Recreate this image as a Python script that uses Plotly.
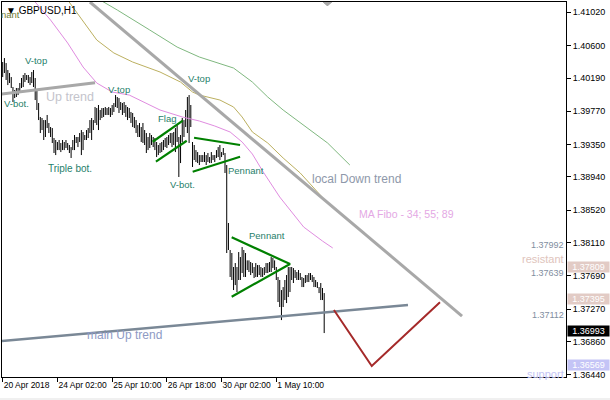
import plotly.graph_objects as go

# ---------------- data ----------------
TICK_BARS = [0, 32, 64, 96, 128, 160]
TICK_TEXT = ["20 Apr 2018", "24 Apr 02:00", "25 Apr 10:00", "26 Apr 18:00", "30 Apr 02:00", "1 May 10:00"]
PRICE_TICKS = [1.41020, 1.40600, 1.40190, 1.39770, 1.39350, 1.38940,
               1.38520, 1.38110, 1.37690, 1.37270, 1.36860, 1.36440]

HIGH = [1.40392, 1.40442, 1.40379, 1.40291, 1.40253, 1.40202, 1.40076, 1.40038, 1.40064, 1.40064,
        1.40127, 1.40190, 1.40228, 1.40253, 1.40228, 1.40228, 1.40202, 1.40266, 1.40291, 1.40190,
        1.40038, 1.39874, 1.39698, 1.39685, 1.39659, 1.39659, 1.39723, 1.39622, 1.39571, 1.39558,
        1.39432, 1.39407, 1.39382, 1.39407, 1.39369, 1.39407, 1.39382, 1.39407, 1.39369, 1.39344,
        1.39318, 1.39407, 1.39470, 1.39445, 1.39445, 1.39495, 1.39533, 1.39508, 1.39470, 1.39533,
        1.39558, 1.39659, 1.39685, 1.39659, 1.39824, 1.39811, 1.39849, 1.39786, 1.39811, 1.39811,
        1.39824, 1.39811, 1.39824, 1.39811, 1.39849, 1.39874, 1.39975, 1.39950, 1.39937, 1.39887,
        1.39874, 1.39887, 1.39849, 1.39824, 1.39811, 1.39761, 1.39748, 1.39698, 1.39659, 1.39596,
        1.39622, 1.39571, 1.39622, 1.39533, 1.39495, 1.39445, 1.39495, 1.39470, 1.39445, 1.39432,
        1.39382, 1.39344, 1.39369, 1.39382, 1.39407, 1.39432, 1.39445, 1.39470, 1.39495, 1.39495,
        1.39508, 1.39558, 1.39596, 1.39445, 1.39470, 1.39685, 1.39659, 1.39786, 1.39950, 1.39975,
        1.39849, 1.39382, 1.39344, 1.39280, 1.39255, 1.39217, 1.39217, 1.39217, 1.39255, 1.39217,
        1.39243, 1.39192, 1.39255, 1.39217, 1.39217, 1.39280, 1.39318, 1.39344, 1.39255, 1.39306,
        1.39243, 1.39091, 1.38359, 1.38018, 1.37980, 1.37803, 1.37853, 1.37803, 1.37992, 1.37929,
        1.38055, 1.38018, 1.37980, 1.37887, 1.37887, 1.37866, 1.37853, 1.37803, 1.37853, 1.37828,
        1.37828, 1.37803, 1.37790, 1.37803, 1.37853, 1.37853, 1.37866, 1.37929, 1.37917, 1.37887,
        1.37803, 1.37677, 1.37639, 1.37512, 1.37550, 1.37639, 1.37702, 1.37803, 1.37803, 1.37803,
        1.37790, 1.37765, 1.37740, 1.37765, 1.37727, 1.37677, 1.37664, 1.37702, 1.37702, 1.37727,
        1.37727, 1.37702, 1.37677, 1.37639, 1.37613, 1.37550, 1.37601, 1.37538, 1.37474]

LOW = [1.40202, 1.40253, 1.40165, 1.40101, 1.40127, 1.40064, 1.39887, 1.39937, 1.39950, 1.39975,
       1.40000, 1.40064, 1.40076, 1.40139, 1.40165, 1.40127, 1.40101, 1.40127, 1.40076, 1.39912,
       1.39786, 1.39659, 1.39495, 1.39533, 1.39407, 1.39445, 1.39558, 1.39495, 1.39445, 1.39369,
       1.39243, 1.39217, 1.39280, 1.39280, 1.39255, 1.39280, 1.39280, 1.39306, 1.39280, 1.39243,
       1.39180, 1.39280, 1.39280, 1.39369, 1.39318, 1.39382, 1.39217, 1.39280, 1.39407, 1.39407,
       1.39432, 1.39495, 1.39407, 1.39533, 1.39622, 1.39596, 1.39533, 1.39659, 1.39685, 1.39698,
       1.39723, 1.39723, 1.39723, 1.39698, 1.39723, 1.39761, 1.39824, 1.39811, 1.39748, 1.39786,
       1.39723, 1.39748, 1.39698, 1.39659, 1.39685, 1.39622, 1.39571, 1.39558, 1.39495, 1.39445,
       1.39445, 1.39382, 1.39369, 1.39344, 1.39243, 1.39280, 1.39306, 1.39344, 1.39318, 1.39280,
       1.39192, 1.39217, 1.39243, 1.39255, 1.39280, 1.39318, 1.39306, 1.39344, 1.39369, 1.39318,
       1.39344, 1.39255, 1.39382, 1.38940, 1.39116, 1.39382, 1.39445, 1.39571, 1.39495, 1.39369,
       1.39571, 1.39066, 1.39154, 1.39129, 1.39116, 1.39091, 1.39129, 1.39129, 1.39129, 1.39091,
       1.39129, 1.39116, 1.39116, 1.39154, 1.39129, 1.39180, 1.39192, 1.39154, 1.39192, 1.39217,
       1.38990, 1.37980, 1.38018, 1.37677, 1.37639, 1.37512, 1.37575, 1.37487, 1.37639, 1.37639,
       1.37727, 1.37677, 1.37677, 1.37765, 1.37740, 1.37702, 1.37727, 1.37664, 1.37677, 1.37677,
       1.37702, 1.37677, 1.37677, 1.37702, 1.37727, 1.37727, 1.37740, 1.37740, 1.37790, 1.37765,
       1.37639, 1.37361, 1.37298, 1.37133, 1.37298, 1.37386, 1.37348, 1.37424, 1.37487, 1.37639,
       1.37601, 1.37664, 1.37639, 1.37639, 1.37639, 1.37550, 1.37550, 1.37601, 1.37613, 1.37613,
       1.37639, 1.37613, 1.37550, 1.37550, 1.37538, 1.37474, 1.37386, 1.37386, 1.36969]

# Moving averages (MA Fibo 34 / 55 / 89), sampled (bar, price)
MA34_BAR = [18, 28, 38, 47, 55, 64, 74, 84, 92, 105, 115, 124, 133, 140, 146, 152, 162, 176, 183, 187, 193]
MA34_VAL = [1.41175, 1.40922, 1.40632, 1.40329, 1.40127, 1.40013, 1.39975, 1.39874, 1.39786, 1.39698,
            1.39647, 1.39584, 1.39508, 1.39382, 1.39230, 1.39015, 1.38687, 1.38308, 1.38194, 1.38131, 1.38043]
MA55_BAR = [38, 55, 65, 76, 92, 104, 111, 115, 127, 135, 140, 146, 155, 164, 174, 184, 191]
MA55_VAL = [1.41175, 1.40670, 1.40506, 1.40392, 1.40266, 1.40139, 1.40013, 1.39975, 1.39912, 1.39824,
            1.39698, 1.39508, 1.39369, 1.39180, 1.38990, 1.38750, 1.38586]
MA89_BAR = [57, 67, 86, 102, 115, 135, 146, 155, 164, 174, 190, 203]
MA89_VAL = [1.41175, 1.41049, 1.40796, 1.40581, 1.40455, 1.40316, 1.40139, 1.39950, 1.39786, 1.39622,
            1.39369, 1.39091]

# Drawn analysis objects (bar, price)
UP_TREND_BAR, UP_TREND_VAL = [-0.6, 54], [1.39988, 1.40131]
DOWN_TREND_BAR, DOWN_TREND_VAL = [51, 268.6], [1.41150, 1.37184]
MAIN_UP_BAR, MAIN_UP_VAL = [-0.4, 237], [1.36868, 1.37323]
FLAG_UP_BAR, FLAG_UP_VAL = [87.7, 105.3], [1.39385, 1.39651]
FLAG_LO_BAR, FLAG_LO_VAL = [89.6, 107.6], [1.39133, 1.39398]
PEN1_UP_BAR, PEN1_UP_VAL = [111.9, 138.8], [1.39436, 1.39344]
PEN1_LO_BAR, PEN1_LO_VAL = [111.1, 138.8], [1.39006, 1.39196]
PEN2_BAR, PEN2_VAL = [133.9, 168, 133.9], [1.38178, 1.37841, 1.37428]
PROJ_BAR, PROJ_VAL = [193.7, 215.8, 255.7], [1.37260, 1.36552, 1.37357]

RESIST_LEVELS = [1.37992, 1.37809, 1.37639, 1.37395]
SUPPORT_LEVELS = [1.37112, 1.36569]
CURRENT_PRICE = 1.36993
LEVEL_TEXT = [1.37992, 1.37639, 1.37112]
RESIST_BOX = [1.37809, 1.37395]
SUPPORT_BOX = [1.36569]

LABELS = [  # text, bar, price, size, color
    ("V-top", 19.5, 1.40417, 9.5, "#1f806a"),
    ("V-bot.", 7.8, 1.39862, 9.5, "#1f806a"),
    ("Up trend", 39.6, 1.39950, 12.5, "#c4c4cc"),
    ("V-top", 68, 1.40051, 9.5, "#1f806a"),
    ("Triple bot.", 39.4, 1.39053, 10, "#1f806a"),
    ("Flag", 96, 1.39685, 9.5, "#1f806a"),
    ("V-bot.", 105.1, 1.38845, 9.5, "#1f806a"),
    ("V-top", 114.8, 1.40184, 9.5, "#1f806a"),
    ("Pennant", 142.3, 1.39028, 9.5, "#1f806a"),
    ("Pennant", 154.3, 1.38207, 9.5, "#1f806a"),
    ("local Down trend", 206.6, 1.38914, 12, "#8e98aa"),
    ("MA Fibo - 34; 55; 89", 236.1, 1.38478, 10.5, "#e4a8e4"),
    ("main Up trend", 71.2, 1.36944, 12, "#8e9ac4"),
]

FONT = "Liberation Sans"

fig = go.Figure()

# OHLC bars as vertical high-low lines
bx, by = [], []
for i, (h, l) in enumerate(zip(HIGH, LOW)):
    bx += [i, i, None]
    by += [l, h, None]
fig.add_trace(go.Scatter(x=bx, y=by, mode="lines", line=dict(color="black", width=1),
                         hoverinfo="skip"))

# MAs
fig.add_trace(go.Scatter(x=MA89_BAR, y=MA89_VAL, mode="lines", line=dict(color="#7fb87f", width=1), hoverinfo="skip"))
fig.add_trace(go.Scatter(x=MA55_BAR, y=MA55_VAL, mode="lines", line=dict(color="#bcb060", width=1), hoverinfo="skip"))
fig.add_trace(go.Scatter(x=MA34_BAR, y=MA34_VAL, mode="lines", line=dict(color="#e08ce0", width=1), hoverinfo="skip"))

# horizontal levels
for lv in RESIST_LEVELS:
    fig.add_hline(y=lv, line=dict(color="#e2cbc5", width=2))
for lv in SUPPORT_LEVELS:
    fig.add_hline(y=lv, line=dict(color="#c4c4f6", width=2))
fig.add_hline(y=CURRENT_PRICE, line=dict(color="#c0c0c0", width=1))

# trend lines
def seg(xs, ys, color, width):
    fig.add_trace(go.Scatter(x=xs, y=ys, mode="lines", line=dict(color=color, width=width), hoverinfo="skip"))

seg(UP_TREND_BAR, UP_TREND_VAL, "#a8a8a8", 3)
seg(DOWN_TREND_BAR, DOWN_TREND_VAL, "#a8a8a8", 3)
seg(MAIN_UP_BAR, MAIN_UP_VAL, "#7a8896", 2.5)
seg(FLAG_UP_BAR, FLAG_UP_VAL, "#008000", 2.2)
seg(FLAG_LO_BAR, FLAG_LO_VAL, "#008000", 2.2)
seg(PEN1_UP_BAR, PEN1_UP_VAL, "#008000", 2.2)
seg(PEN1_LO_BAR, PEN1_LO_VAL, "#008000", 2.2)
seg(PEN2_BAR, PEN2_VAL, "#008000", 2.2)
seg(PROJ_BAR, PROJ_VAL, "#a52a2a", 2)

ann = []
for text, xb, yp, sz, col in LABELS:
    ann.append(dict(x=xb, y=yp, xref="x", yref="y", text=text, showarrow=False,
                    font=dict(family=FONT, size=sz, color=col)))

ann.append(dict(x=11.3, y=1.40986, xref="x", yref="y", text="nant", showarrow=False,
                xanchor="right", font=dict(family=FONT, size=9.5, color="#6f7a30")))

for lv in LEVEL_TEXT:
    ann.append(dict(x=1, y=lv, xref="paper", yref="y", text=f"{lv:.5f}", showarrow=False,
                    xanchor="right", yanchor="bottom", yshift=0,
                    font=dict(family=FONT, size=9, color="#7f8ea0")))
ann.append(dict(x=1, y=RESIST_BOX[0], xref="paper", yref="y", text="resistant", showarrow=False,
                xanchor="right", yanchor="bottom", font=dict(family=FONT, size=11, color="#e0c4bc")))
ann.append(dict(x=1, y=SUPPORT_LEVELS[1], xref="paper", yref="y", text="support", showarrow=False,
                xanchor="right", yanchor="top", yshift=-1, font=dict(family=FONT, size=11, color="#c4c4f4")))

for lv in RESIST_BOX:
    ann.append(dict(x=1, y=lv, xref="paper", yref="y", text=f"{lv:.5f}", showarrow=False,
                    xanchor="left", xshift=1, width=41, height=10, bgcolor="#e2cbc5", borderpad=0,
                    font=dict(family=FONT, size=9, color="white")))
for lv in SUPPORT_BOX:
    ann.append(dict(x=1, y=lv, xref="paper", yref="y", text=f"{lv:.5f}", showarrow=False,
                    xanchor="left", xshift=1, width=41, height=10, bgcolor="#c4c4f6", borderpad=0,
                    font=dict(family=FONT, size=9, color="white")))
ann.append(dict(x=1, y=CURRENT_PRICE, xref="paper", yref="y", text=f"{CURRENT_PRICE:.5f}", showarrow=False,
                xanchor="left", xshift=1, width=41, height=10, bgcolor="black", borderpad=0,
                font=dict(family=FONT, size=9, color="white")))

ann.append(dict(x=0, y=1, xref="paper", yref="paper", text="\u25BC GBPUSD,H1", showarrow=False,
                xanchor="left", yanchor="top", xshift=2, yshift=-1,
                font=dict(family=FONT, size=10, color="black")))

shapes = [
    dict(type="path", xref="paper", yref="paper",
         path="M 0.569 1 L 0.585 1 L 0.577 0.9893 Z",
         fillcolor="#a8a8a8", line=dict(width=0)),
    dict(type="rect", xref="paper", yref="paper", x0=-0.01, x1=1.1, y0=-0.07, y1=-0.056,
         fillcolor="#f0f0f0", line=dict(width=0), layer="below"),
]

fig.update_layout(
    width=610, height=400,
    margin=dict(l=2, r=44, t=2, b=23, autoexpand=False),
    paper_bgcolor="white", plot_bgcolor="white",
    showlegend=False,
    annotations=ann, shapes=shapes,
    font=dict(family=FONT, size=9, color="black"),
    xaxis=dict(range=[-0.41, 329.4], showgrid=False, zeroline=False, automargin=False,
               showline=True, linecolor="black", linewidth=1, mirror=True,
               ticks="outside", ticklen=4, tickcolor="black", tickangle=0,
               tickvals=TICK_BARS, ticktext=TICK_TEXT,
               ticklabelposition="outside right",
               tickfont=dict(family=FONT, size=8.5, color="black")),
    yaxis=dict(range=[1.36414, 1.41150], side="right", showgrid=False, zeroline=False, automargin=False,
               showline=True, linecolor="black", linewidth=1, mirror=True,
               ticks="outside", ticklen=4, tickcolor="black",
               tickvals=PRICE_TICKS, ticktext=[f"{v:.5f}" for v in PRICE_TICKS],
               tickfont=dict(family=FONT, size=9, color="black")),
)

fig.write_html("out.html", config={"displayModeBar": False},
               post_script="document.body.style.margin='0px';")
